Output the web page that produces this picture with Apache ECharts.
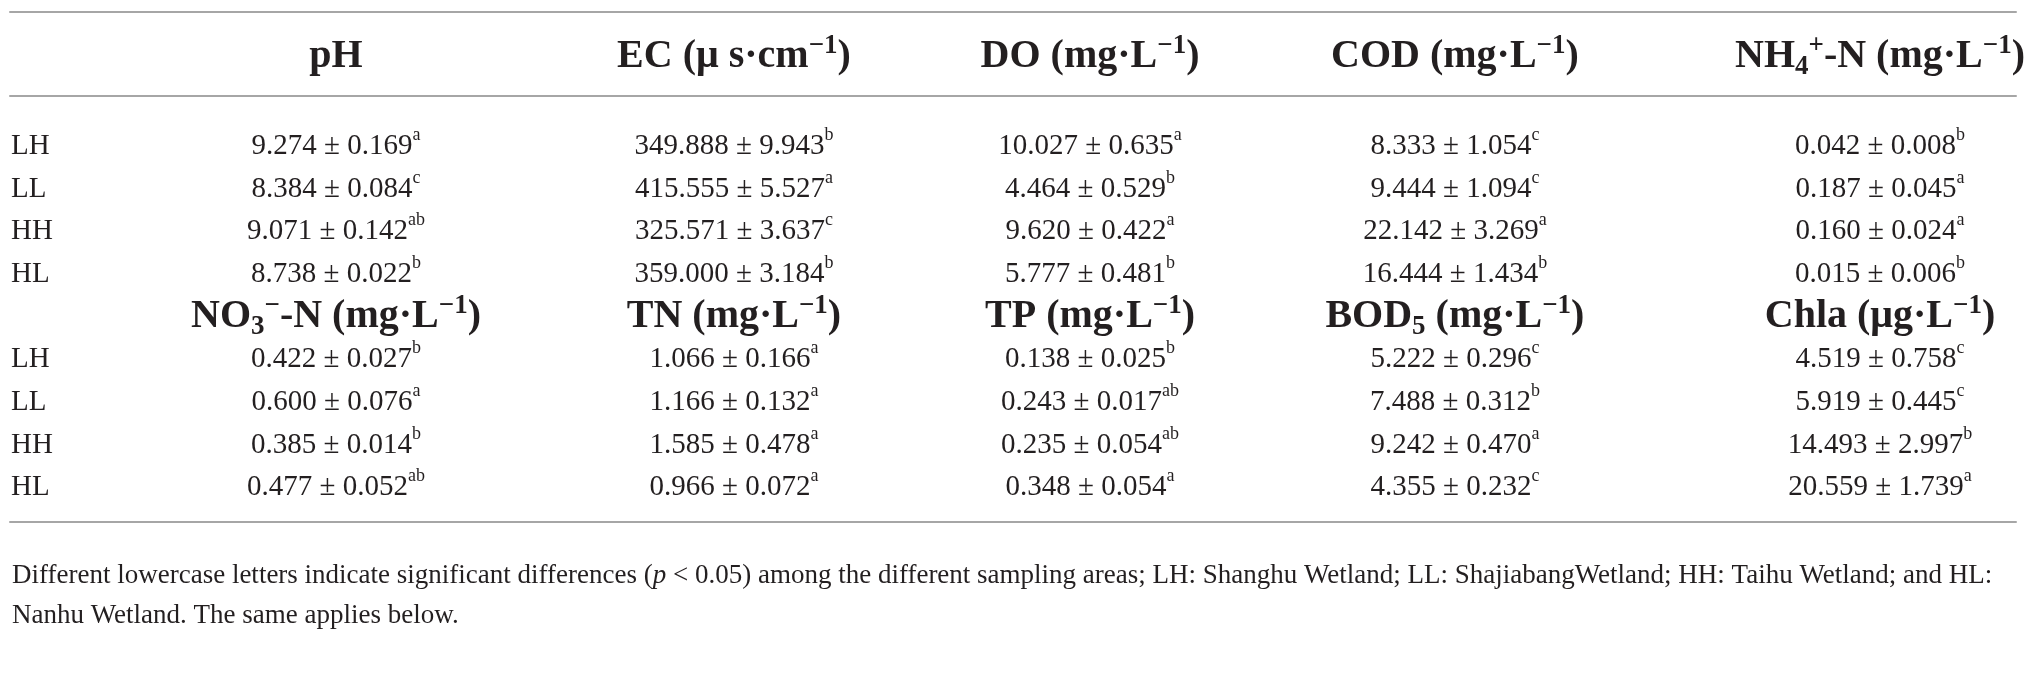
<!DOCTYPE html>
<html>
<head>
<meta charset="utf-8">
<script src="https://cdn.jsdelivr.net/npm/echarts@6/dist/echarts.min.js"></script>
<style>
  html, body { margin: 0; padding: 0; background: #fff; }
  #table { width: 2030px; height: 692px; }
</style>
</head>
<body>
<div id="table"></div>
<script>
// sampling areas (row labels)
var sites = ['LH', 'LL', 'HH', 'HL'];

// column headers, rich-text markup
var headTop = [
  '{h|pH}',
  '{h|EC (μ s·cm}{sup|−1}{h|)}',
  '{h|DO (mg·L}{sup|−1}{h|)}',
  '{h|COD (mg·L}{sup|−1}{h|)}',
  '{h|NH}{sub|4}{sup|+}{h|-N (mg·L}{sup|−1}{h|)}'
];
var headBottom = [
  '{h|NO}{sub|3}{sup|−}{h|-N (mg·L}{sup|−1}{h|)}',
  '{h|TN (mg·L}{sup|−1}{h|)}',
  '{h|TP (mg·L}{sup|−1}{h|)}',
  '{h|BOD}{sub|5}{h| (mg·L}{sup|−1}{h|)}',
  '{h|Chla (μg·L}{sup|−1}{h|)}'
];

// mean, sd, letters — order LH, LL, HH, HL
var pHMean = [9.274, 8.384, 9.071, 8.738];
var pHSd = [0.169, 0.084, 0.142, 0.022];
var pHSig = ['a', 'c', 'ab', 'b'];

var ecMean = [349.888, 415.555, 325.571, 359.000];
var ecSd = [9.943, 5.527, 3.637, 3.184];
var ecSig = ['b', 'a', 'c', 'b'];

var doMean = [10.027, 4.464, 9.620, 5.777];
var doSd = [0.635, 0.529, 0.422, 0.481];
var doSig = ['a', 'b', 'a', 'b'];

var codMean = [8.333, 9.444, 22.142, 16.444];
var codSd = [1.054, 1.094, 3.269, 1.434];
var codSig = ['c', 'c', 'a', 'b'];

var nh4Mean = [0.042, 0.187, 0.160, 0.015];
var nh4Sd = [0.008, 0.045, 0.024, 0.006];
var nh4Sig = ['b', 'a', 'a', 'b'];

var no3Mean = [0.422, 0.600, 0.385, 0.477];
var no3Sd = [0.027, 0.076, 0.014, 0.052];
var no3Sig = ['b', 'a', 'b', 'ab'];

var tnMean = [1.066, 1.166, 1.585, 0.966];
var tnSd = [0.166, 0.132, 0.478, 0.072];
var tnSig = ['a', 'a', 'a', 'a'];

var tpMean = [0.138, 0.243, 0.235, 0.348];
var tpSd = [0.025, 0.017, 0.054, 0.054];
var tpSig = ['b', 'ab', 'ab', 'a'];

var bodMean = [5.222, 7.488, 9.242, 4.355];
var bodSd = [0.296, 0.312, 0.470, 0.232];
var bodSig = ['c', 'b', 'a', 'c'];

var chlaMean = [4.519, 5.919, 14.493, 20.559];
var chlaSd = [0.758, 0.445, 2.997, 1.739];
var chlaSig = ['c', 'c', 'b', 'a'];

// layout: column centres as % of table width (like a colgroup)
var colPos = [16.25, 36.09, 53.84, 72.03, 93.22];

var font = '"Liberation Serif", "Times New Roman", serif';
var ink = '#231f20';

var cellRich = {
  v: { fontSize: 29, lineHeight: 40, fontFamily: font, color: ink, verticalAlign: 'middle' },
  s: { fontSize: 18, lineHeight: 25, fontFamily: font, color: ink, verticalAlign: 'top' }
};
var headRich = {
  h: { fontSize: 40, lineHeight: 48, fontWeight: 'bold', fontFamily: font, color: ink, verticalAlign: 'middle' },
  sup: { fontSize: 27, lineHeight: 31, fontWeight: 'bold', fontFamily: font, color: ink, verticalAlign: 'top' },
  sub: { fontSize: 27, lineHeight: 24, fontWeight: 'bold', fontFamily: font, color: ink, verticalAlign: 'bottom' }
};

var block1 = [[pHMean, pHSd, pHSig], [ecMean, ecSd, ecSig], [doMean, doSd, doSig],
              [codMean, codSd, codSig], [nh4Mean, nh4Sd, nh4Sig]];
var block2 = [[no3Mean, no3Sd, no3Sig], [tnMean, tnSd, tnSig], [tpMean, tpSd, tpSig],
              [bodMean, bodSd, bodSig], [chlaMean, chlaSd, chlaSig]];

// rows of the body: 4 sites, a header row, 4 sites
var rowLabels = sites.concat(['']).concat(sites);
var cells = [];
function addBlock(block, rowStart) {
  block.forEach(function (col, c) {
    for (var r = 0; r < sites.length; r++) {
      cells.push({
        value: [colPos[c], rowStart + r],
        text: '{v|' + col[0][r].toFixed(3) + ' ± ' + col[1][r].toFixed(3) + '}{s|' + col[2][r] + '}',
        head: false
      });
    }
  });
}
addBlock(block1, 0);
headBottom.forEach(function (h, c) {
  cells.push({ value: [colPos[c], 4], text: h, head: true });
});
addBlock(block2, 5);

var ruleStyle = { show: true, lineStyle: { color: '#a6a6a6', width: 2 } };

var chart = echarts.init(document.getElementById('table'));
chart.setOption({
  backgroundColor: '#fff',
  animation: false,
  grid: { left: 10, right: 14, top: 125, bottom: 183, containLabel: false, outerBoundsMode: 'none' },
  xAxis: [
    {
      type: 'value', position: 'top', min: 0, max: 100, offset: 29,
      axisLine: ruleStyle, axisTick: { show: false }, splitLine: { show: false },
      axisLabel: {
        customValues: colPos, margin: 15, rich: headRich,
        formatter: function (v) { return headTop[colPos.indexOf(v)] || ''; }
      }
    },
    {
      type: 'value', position: 'top', min: 0, max: 100, offset: 113,
      axisLine: ruleStyle, axisTick: { show: false }, splitLine: { show: false }, axisLabel: { show: false }
    },
    {
      type: 'value', position: 'bottom', min: 0, max: 100, offset: 13,
      axisLine: ruleStyle, axisTick: { show: false }, splitLine: { show: false }, axisLabel: { show: false }
    }
  ],
  yAxis: {
    type: 'category', inverse: true,
    data: rowLabels.map(function (s, i) { return 'r' + i; }),
    axisLine: { show: false }, axisTick: { show: false }, splitLine: { show: false },
    axisLabel: {
      inside: true, margin: 1, align: 'left',
      fontSize: 29, fontFamily: font, color: ink,
      formatter: function (v, i) { return rowLabels[i]; }
    }
  },
  series: [{
    type: 'custom',
    xAxisIndex: 0,
    clip: false,
    data: cells.map(function (c) { return c.value; }),
    renderItem: function (params, api) {
      var cell = cells[params.dataIndex];
      var p = api.coord([api.value(0), api.value(1)]);
      return {
        type: 'text',
        x: p[0], y: p[1],
        style: {
          text: cell.text,
          rich: cell.head ? headRich : cellRich,
          align: 'center',
          verticalAlign: 'middle',
          fill: ink
        }
      };
    }
  }],
  graphic: [
    {
      type: 'text', left: 12, top: 562,
      style: {
        text: '{t|Different lowercase letters indicate significant differences (}{i|p}{t| < 0.05) among the different sampling areas; LH: Shanghu Wetland; LL: ShajiabangWetland; HH: Taihu Wetland; and HL:}',
        rich: {
          t: { fontSize: 27, fontFamily: font, fill: ink, color: ink },
          i: { fontSize: 27, fontFamily: font, fontStyle: 'italic', fill: ink, color: ink }
        }
      }
    },
    {
      type: 'text', left: 12, top: 602,
      style: { text: 'Nanhu Wetland. The same applies below.', fontSize: 27, fontFamily: font, fill: ink }
    }
  ]
});
</script>
</body>
</html>
